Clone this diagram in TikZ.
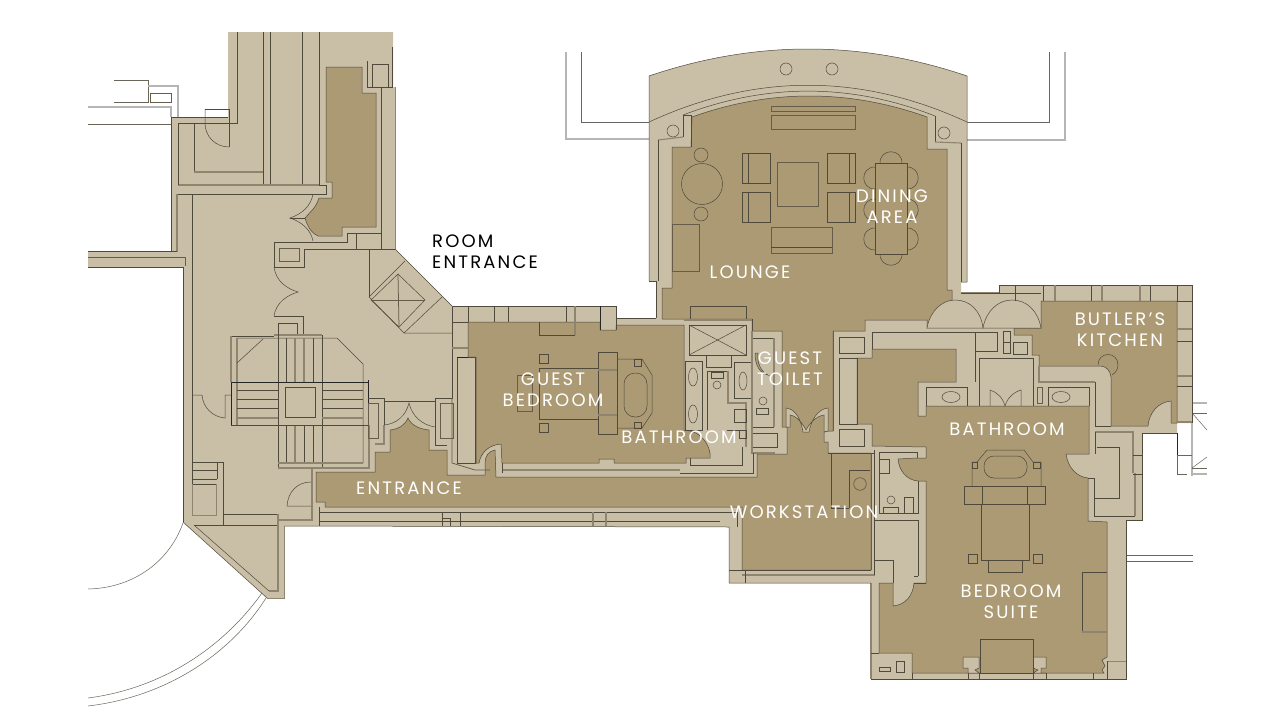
\documentclass[tikz,border=0pt]{standalone}
\usepackage{fontspec}
\newfontfamily\labfont[LetterSpace=12]{Poppins}
\definecolor{wallc}{HTML}{C9BEA6}
\definecolor{roomc}{HTML}{AB9A73}
\definecolor{linec}{HTML}{4F4A3C}
\definecolor{shadc}{HTML}{8E8470}
\definecolor{shadk}{HTML}{655C49}
\definecolor{outc}{HTML}{B5B5B5}
\tikzset{
 ln/.style={draw=linec,line width=.5pt},
 sh/.style={draw=shadc,line width=1.1pt},
 shk/.style={draw=shadk,line width=.75pt},
 bk/.style={draw=black!85,line width=.8pt},
 wht/.style={draw=linec!85,line width=.5pt},
 gy/.style={draw=outc,line width=1.1pt},
 gk/.style={draw=black!60,line width=.6pt},
 room/.style={fill=roomc,draw=linec,line width=.5pt,line join=miter},
 wall/.style={fill=wallc,draw=linec,line width=.5pt},
 lab/.style={text=white,font=\labfont\fontsize{18}{21}\selectfont,align=center,inner sep=0pt},
 labk/.style={text=black,font=\labfont\fontsize{18}{21}\selectfont,align=left,inner sep=0pt,anchor=west}
}
\begin{document}
\begin{tikzpicture}[x=1pt,y=-1pt]
\useasboundingbox (0,0) rectangle (1280,720);
\fill[white] (0,0) rectangle (1280,720);
% outside lines, white area
\draw[wht] (114,80)--(148,80)--(148,102)--(114,102);
\draw[gy] (148,86)--(178,86)--(178,117);
\draw[shk] (150,93) rectangle (171,102);
\draw[gy] (88,107)--(171,107)--(171,117);
\draw[wht] (88,124)--(171,124);
\draw[gy] (566,52)--(566,139)--(649,139);
\draw[gk] (581,52)--(581,122)--(649,122);
\draw[gy] (1065,52)--(1065,140)--(967,140);
\draw[gk] (1049,52)--(1049,122)--(967,122);
\draw[gk] (1126,555)--(1193,555);
\draw[gk] (1126,561)--(1193,561);
\draw[gy] (1192,403)--(1207,403);
\draw[wht] (1192,413)--(1207,413);
\draw[wht] (1192,413)--(1207,430);
\draw[bk] (1177,433)--(1177,455);
\draw[wht] (1177,455)--(1177,474)--(1187,474);
\draw[gy] (1192,423)--(1192,476);
\draw[wht] (1177,455)--(1192,455);
\draw[gy] (1192,474)--(1207,474);
\draw[wht] (1192,468)--(1207,457);
\draw[wht] (1192,468)--(1207,468);
\draw[wht] (183,523) .. controls (170,560) and (135,588) .. (88,589);
\draw[wht] (262,593) .. controls (225,645) and (165,688) .. (88,698);
\draw[wht] (266,598) .. controls (230,655) and (165,697) .. (88,706);
% main wall mass
\fill[wallc] (228,32)--(393,32)--(393,87)--(395,87)--(395,249)--(453,307)--(616,306)--(616,318)--(656,318)--(656,281)--(649,281)--(649,76)
 .. controls (755,40) and (861,40) .. (967,76)--(967,282)--(961,282)--(961,293)--(999,293)--(999,285)--(1192,285)--(1192,423)--(1177,423)--(1177,433)--(1142,433)--(1142,520)--(1126,520)--(1126,679)--(871,679)--(871,583)--(729,583)--(729,527)--(284,526)--(284,598)--(267,598)--(183,522)--(183,267)--(88,267)--(88,251)--(171,251)--(171,117)--(228,117)--cycle;
% outline edges
\draw[ln] (649,281)--(649,76) .. controls (755,40) and (861,40) .. (967,76)--(967,282)--(961,282);
\draw[ln] (656,318)--(656,281)--(649,281);
\draw[sh,line width=.7pt] (395,87)--(395,249);
\draw[ln] (395,249)--(453,307);
\draw[ln] (453,306)--(616,306)--(616,318)--(656,318);
\draw[ln] (999,293)--(999,285)--(1192,285)--(1192,423);
\draw[ln] (1177,433)--(1142,433)--(1142,520)--(1126,520)--(1126,679)--(871,679);
\draw[sh] (871,679)--(871,583);
\draw[ln] (871,583)--(729,583)--(729,527)--(284,526);
\draw[sh,line width=.7pt] (284,526)--(284,598)--(267,598);
\draw[ln] (267,598)--(183,522);
\draw[ln] (183,522)--(183,267)--(88,267);
\draw[ln] (88,251)--(171,251)--(171,117)--(228,117);
\draw[sh] (961,293)--(999,293);
% Upper-left dark room
\path[room] (326,67)--(362,67)--(362,93)--(376,93)--(376,227)--(342,227)--(342,236)--(318,236)
 .. controls (310,232) and (307,225) .. (305,218) .. controls (310,212) and (316,208) .. (319,198)--(332,198)--(332,182)--(326,182)--cycle;
% Lounge + corridor + workstation
\path[room] (692,117) .. controls (770,89) and (849,89) .. (927,117)--(927,149)--(947,149)--(947,290)--(952,290)--(952,300)--(927,328)--(927,320)--(865,320)--(865,331)--(833,331)--(833,431)--(828,431)--(824,432)--(824,442)--(828,442)--(828,453)--(871,453)--(871,570)--(742,570)--(742,507)--(325,507)--(325,502)--(316,502)--(316,472)--(375,472)--(375,452)--(390,452)--(390,430)
 .. controls (399,429) and (405,425) .. (408,418) .. controls (411,425) and (419,429) .. (429,430)--(429,450)--(447,450)--(447,475)--(485,475)--(485,463) .. controls (485,456) and (489,451) .. (495,450)--(496,477)--(757,477)--(757,454)--(787,454)--(787,427)--(782,427)--(782,331)--(752,331)--(752,319)--(662,319)--(662,288)--(672,288)--(672,147)--(691,147)--cycle;
% Guest bedroom
\path[room] (468,322)--(600,322)--(600,330)--(616,330)--(616,325)--(684,325)--(684,430)--(690,431) .. controls (700,433) and (708,442) .. (710,453)--(710,458)--(686,458)--(686,463)--(614,463)--(614,459)--(599,459)--(599,463)--(502,463)--(501,444) .. controls (489,445) and (481,452) .. (479,463)--(476,463)--(476,357)--(468,357)--cycle;
% Butler's kitchen
\path[room] (1041,301)--(1177,301)--(1177,423)--(1171,423)--(1171,401) .. controls (1158,402) and (1149,413) .. (1148,426)--(1111,426)--(1111,377) .. controls (1110,370) and (1106,366) .. (1100,366)--(1039,366)--(1039,355)--(1032,355)--(1032,335)--(1014,335)--(1014,328)--(1041,328)--cycle;
\draw[ln] (1098,365) .. controls (1098,351) and (1118,351) .. (1118,365) .. controls (1118,370) and (1115,373) .. (1112,375);
% Bedroom + bathroom + walk-in
\path[room] (926,406)--(1089,406)--(1089,454)--(1066,454) .. controls (1068,468) and (1077,477) .. (1088,478)--(1088,521)--(1107,522)--(1107,657)--(1102,660)--(1105,666)--(1102,670)--(1104,673)--(912,673)--(912,653)--(879,653)--(879,583)--(893,583)--(893,606) .. controls (905,605) and (913,596) .. (914,583)--(926,583)--(926,481)--(918,481) .. controls (906,480) and (899,470) .. (898,459)--(917,458)--(926,458)--(926,447)--(872,446)--(872,424)--(857,424)--(857,358)--(872,358)--(872,349)--(956,349)--(956,382)--(918,382)--(918,416)--(926,416)--cycle;
% domes
\path[wall] (927,328) .. controls (930,311) and (942,300) .. (955,300) .. controls (970,300) and (981,311) .. (983,328)--cycle;
\path[wall] (983,328) .. controls (986,311) and (998,300) .. (1012,300) .. controls (1027,300) and (1038,311) .. (1041,328)--cycle;
% top-left wing lines
\draw[ln] (237,32)--(237,123)--(228,123);
\draw[ln] (263,32)--(263,185);
\draw[ln] (270,32)--(270,185);
\draw[ln] (302,32)--(302,185);
\draw[ln] (319,32)--(319,185);
\draw[sh] (178,185)--(319,185);
\draw[ln] (178,123)--(178,185);
\draw[ln] (178,123)--(228,123);
\draw[ln] (194,123)--(194,172);
\draw[sh] (194,172)--(263,172);
\draw[ln] (205,109)--(229,109)--(229,147);
\draw[ln] (205,109)--(205,123) .. controls (205,137) and (216,147) .. (229,147);
\draw[ln] (319,185)--(326,185)--(326,194)--(177,194);
\draw[sh] (177,194)--(177,252);
\draw[ln] (392,47)--(392,87)--(367,87)--(367,61);
\draw[ln] (372,87)--(372,64)--(388,64)--(388,87);
\draw[ln] (381,87)--(381,249);
% double door upper
\draw[ln] (313,194) .. controls (311,206) and (302,214) .. (290,218) .. controls (302,222) and (311,230) .. (313,241);
\draw[ln] (290,218)--(305,218);
% wall pieces
\draw[ln] (274,242)--(347,242)--(347,233)--(381,233);
\draw[ln] (356,233)--(356,249);
\draw[ln] (304,249)--(395,249);
\draw[ln] (304,249)--(304,267)--(274,267)--(274,242);
\draw[shk] (279,248) rectangle (299,261);
\draw[ln] (274,267) .. controls (276,282) and (288,289) .. (298,292) .. controls (288,295) and (276,302) .. (274,316);
\draw[ln] (274,316)--(303,316)--(303,335);
\draw[ln] (278,335)--(278,323)--(297,323)--(297,335);
% left strip
\draw[ln] (192,194)--(192,395);
\draw[ln] (192,395)--(202,395) .. controls (203,408) and (213,417) .. (225,418)--(225,395)--(231,395);
\draw[ln] (192,395)--(192,515);
\draw[shk] (88,257)--(185,257)--(185,266);
\draw[ln] (88,251)--(177,251);
% diamond
\draw[ln] (369,249)--(369,297);
\draw[ln] (369,297)--(404,333)--(453,333);
\draw[ln] (369,297)--(405,261);
\draw[ln] (404,333)--(442,297);
\draw[ln] (398,274)--(425,300)--(399,327)--(371,300)--cycle;
\draw[shk] (398,274)--(399,327);
\draw[shk] (371,300)--(425,300);
% central stair
\draw[ln] (231,336)--(274,336);
\draw[sh] (231,336)--(231,382);
\draw[sh] (274,335)--(322,335);
\draw[ln] (237,338)--(337,338)--(363,364)--(363,463);
\draw[sh] (237,338)--(237,425);
\draw[ln] (237,363)--(263,339);
\draw[ln] (278,323)--(278,468);
\draw[ln] (322,335)--(322,468);
\draw[ln] (286,338)--(286,382);\draw[sh] (295,338)--(295,382);\draw[sh] (304,338)--(304,382);\draw[ln] (313,338)--(313,382);
\draw[ln] (286,425)--(286,463);\draw[sh] (295,425)--(295,463);\draw[ln] (304,425)--(304,463);\draw[ln] (313,425)--(313,463);
\draw[sh] (278,463)--(363,463);
\draw[sh] (278,468)--(369,468)--(369,425);
\draw[bk] (231,382)--(368,382);
\draw[ln] (231,425)--(368,425);
\draw[bk] (231,382)--(231,425);
\draw[bk] (368,380)--(368,425);
\foreach \yy in {390,399,408}{
 \draw[ln] (237,\yy)--(278,\yy);\draw[ln] (322,\yy)--(363,\yy);}
\draw[sh] (237,418)--(278,418);\draw[sh] (322,418)--(363,418);
\draw[ln] (285,387) rectangle (315,417);
% side of stair and door to entrance
\draw[ln] (368,398)--(384,398)--(384,425);
\draw[sh] (384,425)--(384,444)--(375,444);
\draw[shk] (368,403) rectangle (378,438);
\draw[ln] (384,401)--(435,401);
\draw[ln] (384,425) .. controls (396,424) and (406,416) .. (409,403) .. controls (412,416) and (422,425) .. (435,427);
\draw[ln] (435,398)--(452,398)--(452,307);
\draw[ln] (435,398)--(435,445)--(447,445);
\draw[shk] (440,403) rectangle (453,438);
\draw[ln] (468,307)--(468,322);
\draw[ln] (452,322)--(468,322);
\draw[sh] (452,348)--(468,348);
\draw[ln] (457,463)--(457,357)--(475,357)--(475,463)--cycle;
\draw[bk] (457,357)--(468,357);
\draw[shk] (452,398)--(452,463)--(475,470)--(490,470);
% lower left room
\draw[sh] (312,468)--(312,520)--(278,520);
\draw[ln] (278,514)--(223,514);
\draw[ln] (278,514)--(278,520);
\draw[ln] (223,462)--(223,525);
\draw[ln] (192,462)--(223,462);
\draw[ln] (192,470)--(217,470);\draw[ln] (192,479)--(217,479);\draw[ln] (217,462)--(217,479);
\draw[ln] (192,484)--(216,484);
\draw[sh,line width=.8pt] (216,484)--(216,515)--(192,515)--(192,484);
\draw[ln] (194,525)--(278,525);
\draw[sh] (278,514)--(278,591)--(269,591);
\draw[ln] (194,525)--(269,591);
\draw[ln] (311,482) .. controls (297,482) and (288,492) .. (287,506)--(311,506);
% corridor bottom strip
\draw[ln] (319,507)--(319,526);
\draw[ln] (319,512)--(737,512)--(737,527);
\draw[ln] (319,521)--(720,521);
\draw[ln] (442,512)--(442,526);\draw[ln] (460,512)--(460,526);
\draw[ln] (442,518)--(450,518)--(450,526);
\draw[sh] (593,512)--(593,526);\draw[sh] (606,512)--(606,526);
\draw[ln] (729,570)--(871,570);
\draw[sh] (742,575)--(875,575);
\draw[ln] (729,570)--(745,570)--(745,583);
% guest bedroom top strip
\draw[ln] (468,306)--(468,322);\draw[ln] (494,306)--(494,322);\draw[ln] (508,306)--(508,322);
\draw[ln] (566,306)--(566,322);\draw[sh] (575,306)--(575,322);
\draw[bk] (600,306)--(600,330);\draw[ln] (616,306)--(616,330);
% guest bedroom furniture
\draw[ln] (539,322)--(539,335)--(575,335);\draw[sh] (575,335)--(575,322);
\draw[ln] (539,368) rectangle (598,419);
\draw[ln] (539,354) rectangle (548,363);
\draw[ln] (539,423) rectangle (548,432);
\draw[shk] (517,375) rectangle (532,411);
\draw[ln] (598,352) rectangle (617,434);
\draw[sh] (598,370)--(617,370);\draw[sh] (598,415)--(617,415);
\draw[ln] (617,359)--(642,359)--(652,375)--(652,413)--(642,428)--(617,428);
\draw[ln] (634,359) rectangle (641,366);
\draw[ln] (634,422) rectangle (641,428);
\draw[ln,rounded corners=11pt] (624,373) rectangle (647,417);
% bathroom block
\draw[ln] (689,325) rectangle (746,355);
\draw[ln] (689,325)--(746,355);\draw[ln] (746,325)--(689,355);
\draw[sh] (684,320)--(752,320);
\draw[ln] (752,319)--(752,331);
\draw[ln] (706,355)--(706,367)--(731,367)--(731,355);
\draw[ln] (685,361) rectangle (702,430);
\draw[ln] (693,377) ellipse (4.5 and 9);
\draw[ln] (693,414) ellipse (4.5 and 9);
\draw[ln] (707,430)--(707,371);
\draw[ln] (707,371)--(728,371);
\draw[sh] (728,371)--(728,403)--(746,403)--(746,447);
\draw[ln] (711,372) rectangle (723,378);
\draw[ln] (717,385) circle (4);
\draw[ln] (734,409) rectangle (746,422);
\draw[ln] (739,430) rectangle (746,438);
\draw[ln] (727,430) -- (739,430);
\draw[ln] (690,458)--(690,465)--(742,465)--(742,447);
\draw[ln] (734,362) rectangle (752,398);
\draw[ln] (743,381) ellipse (4 and 9);
\draw[ln] (752,338)--(774,338);
\draw[sh] (774,338)--(774,427);
\draw[ln] (774,427)--(752,427);
\draw[ln] (752,398)--(752,427);
\draw[ln] (763,401) circle (4);
\draw[ln] (756,408) rectangle (768,414);
\draw[ln] (752,433) rectangle (777,447);
\draw[sh] (752,331)--(752,453)--(775,453);
\draw[ln] (680,473)--(753,473)--(753,453);
\draw[sh] (502,470)--(680,470);
\draw[ln] (502,463)--(502,473);
% toilet door
\path[fill=roomc,draw=linec,line width=.5pt] (755,353)--(758,353) .. controls (757,362) and (760,371) .. (768,375) .. controls (760,373) and (755,366) .. (755,353);
% M door
\path[wall] (786,408) .. controls (796,409) and (801,420) .. (803,432)--(809,432) .. controls (811,420) and (818,409) .. (828,408)--(828,431)--(824,432)--(824,415) .. controls (816,416) and (809,424) .. (806,430) .. controls (803,424) and (797,416) .. (790,415)--(790,427)--(787,427)--(786,427)--cycle;
% right wall by workstation
\draw[ln] (839,337) rectangle (864,353);
\draw[ln] (839,358) rectangle (857,424);
\draw[ln] (839,429) rectangle (864,446);
\draw[shk] (833,331)--(833,431);
\draw[ln] (828,453)--(874,453);
% workstation
\draw[ln] (831,453)--(831,508);
\draw[ln] (849,508)--(849,470)--(870,470);
\draw[ln] (860,484) circle (6.3);
\draw[ln] (849,508)--(831,508);
\draw[shk] (871,453)--(871,570);
% WC and closet
\draw[ln] (874,450)--(874,575);
\draw[ln] (879,452)--(879,513)--(918,513)--(918,481);
\draw[ln] (879,452)--(917,452)--(917,458);
\draw[ln] (879,459) rectangle (889,473);
\draw[ln] (891,500) circle (4);
\draw[ln] (883,513)--(883,507)--(898,507)--(898,513);
\draw[ln] (904,513)--(904,497)--(913,497)--(913,513);
\draw[ln] (874,520)--(918,520)--(918,576);
\draw[ln] (875,560)--(893,560)--(893,583);
\draw[ln] (926,583)--(914,583);
\draw[ln] (914,576)--(918,576);
\draw[ln] (871,653) -- (879,653);
\draw[ln] (879,667) rectangle (890,671);
\draw[ln] (896,661) rectangle (904,672);
\draw[ln] (912,673)--(912,679);
% bedroom bottom strip and pilasters
\draw[ln] (968,673)--(968,679);\draw[ln] (979,673)--(979,679);\draw[ln] (1033,673)--(1033,679);\draw[ln] (1046,673)--(1046,679);\draw[ln] (1093,673)--(1093,679);
\path[wall] (968,673)--(968,668)--(963,668)--(963,657)--(979,657)--(979,668)--(975,670)--(979,673)--cycle;
\path[wall] (1046,673)--(1041,673)--(1041,668)--(1046,668)--(1046,657)--(1033,657)--(1033,668)--(1038,670)--(1033,673)--cycle;
\draw[ln,fill=roomc] (980,639) rectangle (1033,673);
\draw[sh,line width=.7pt] (1107,661)--(1126,661);
\draw[ln] (1107,661)--(1107,679);
\draw[ln] (1082,572)--(1107,572);\draw[ln] (1082,572)--(1082,632);\draw[sh] (1082,632)--(1107,632);
% bed in suite
\draw[ln] (972,486)--(972,462)--(977,462)--(987,450)--(1024,450)--(1033,462)--(1041,462)--(1041,486);
\draw[ln] (972,462) rectangle (977,468);
\draw[ln] (1033,462) rectangle (1040,468);
\draw[ln,rounded corners=10pt] (984,456) rectangle (1027,478);
\draw[ln] (964,486) rectangle (1045,504);
\draw[ln] (982,486)--(982,504);\draw[ln] (1027,486)--(1027,504);
\draw[ln] (981,504) rectangle (1029,560);
\draw[ln] (988,560)--(988,572)--(1022,572)--(1022,560);
\draw[ln] (968,554) rectangle (977,563);
\draw[ln] (1033,554) rectangle (1042,563);
% bath fixtures
\draw[ln] (872,332)--(975,332)--(975,382);
\draw[ln] (872,332)--(872,349);
\draw[ln] (975,332) rectangle (997,351);
\draw[ln] (1003,331) rectangle (1010,353);
\draw[ln] (1003,342)--(1010,342);
\draw[ln] (1013,342) rectangle (1027,354);
\draw[ln] (926,406)--(926,387)--(967,387)--(967,406);
\draw[ln] (951,397) ellipse (9 and 5.5);
\draw[ln] (979,406)--(979,358)--(1033,358)--(1033,406);
\draw[ln] (990,406)--(990,390) .. controls (997,392) and (1003,398) .. (1005,406) .. controls (1007,398) and (1014,392) .. (1021,390)--(1021,406);
\draw[shk] (1037,387) rectangle (1042,403);
\draw[ln] (1048,406)--(1048,387)--(1089,387)--(1089,406);
\draw[ln] (1061,397) ellipse (9 and 5.5);
\draw[sh] (1039,366)--(1039,382)--(1095,382);
\draw[ln] (1095,382)--(1095,426)--(1111,426);
\draw[sh] (1095,432)--(1133,432)--(1133,473);
\draw[ln] (1095,432)--(1095,454);
\draw[ln] (1097,447)--(1119,447)--(1119,498)--(1094,498);
\draw[ln] (1094,478)--(1094,516)--(1135,516);
\draw[sh] (1135,516)--(1135,473);
\draw[ln] (1133,455)--(1142,455);\draw[ln] (1133,474)--(1142,474);
\draw[ln] (1088,478)--(1094,478);
% kitchen strip
\draw[ln] (961,293)--(1041,293);
\draw[ln] (1015,285)--(1015,301);\draw[ln] (1043,285)--(1043,301);\draw[sh] (1055,285)--(1055,301);
\draw[ln] (1091,285)--(1091,301);\draw[sh] (1102,285)--(1102,301);\draw[sh] (1140,285)--(1140,301);\draw[ln] (1150,285)--(1150,301);
\draw[ln] (1177,285)--(1177,301);
\draw[ln] (1177,301)--(1192,301);\draw[sh] (1177,329)--(1192,329);\draw[ln] (1177,341)--(1192,341);\draw[sh] (1177,376)--(1192,376);\draw[ln] (1177,386)--(1192,386);\draw[sh] (1177,422)--(1192,422);
% lounge arcs and corners
\draw[ln] (649,122) .. controls (755,73) and (861,73) .. (967,122);
\draw[ln] (683,115) .. controls (767,83) and (851,83) .. (935,116);
\draw[ln] (683,115)--(691,115)--(691,147);
\draw[ln] (683,115)--(683,137);
\draw[sh] (683,137)--(658,140);
\draw[ln] (658,140)--(658,281);
\draw[ln] (935,116)--(935,142);
\draw[sh] (935,142)--(961,143);
\draw[ln] (961,143)--(961,282);
\draw[ln] (786,69) circle (6);
\draw[ln] (832,69) circle (6);
\draw[ln] (673,131) circle (6);
\draw[ln] (944,133) circle (6);
% lounge furniture
\draw[shk] (771,106) rectangle (855,111);
\draw[shk] (771,115) rectangle (855,129);
\draw[ln] (742,153) rectangle (770,183);\draw[ln] (748,153)--(748,183);
\draw[ln] (742,192) rectangle (770,222);\draw[ln] (748,192)--(748,222);
\draw[ln] (827,153) rectangle (855,183);\draw[ln] (849,153)--(849,183);
\draw[ln] (827,192) rectangle (855,222);\draw[ln] (849,192)--(849,222);
\draw[shk] (777,162) rectangle (818,206);
\draw[shk] (771,227) rectangle (832,253);
\draw[ln] (771,247)--(832,247);
\draw[ln] (702,184) circle (20.5);
\draw[ln] (701,155) circle (7);
\draw[ln] (701,214) circle (7);
\draw[shk] (672,224) rectangle (699,271);
\draw[ln] (880,163) .. controls (880,148) and (902,148) .. (902,163);
\draw[ln] (880,254) .. controls (880,269) and (902,269) .. (902,254);
\foreach \yy in {178,210,239}{
 \draw[ln] (875,\yy-11) .. controls (860,\yy-11) and (860,\yy+11) .. (875,\yy+11);
 \draw[ln] (907,\yy-11) .. controls (922,\yy-11) and (922,\yy+11) .. (907,\yy+11);}
\draw[ln] (875,163) rectangle (907,254);
\draw[ln] (690,319)--(690,306)--(746,306)--(746,319);
% labels
\node[labk] (roomentrance) at (432,252) {ROOM\\ENTRANCE};
\node[lab] (guestbedroom) at (553,390) {GUEST\\BEDROOM};
\node[lab] (bathguest) at (679,437) {BATHROOM};
\node[lab] (entrance) at (409,488) {ENTRANCE};
\node[lab] (guesttoilet) at (790,369) {GUEST\\TOILET};
\node[lab] (lounge) at (750,272) {LOUNGE};
\node[lab] (dining) at (892,207) {DINING\\AREA};
\node[lab] (butler) at (1120,330) {BUTLER’S\\KITCHEN};
\node[lab] (bathmain) at (1007,429) {BATHROOM};
\node[lab] (workstation) at (804,512) {WORKSTATION};
\node[lab] (suite) at (1011,602) {BEDROOM\\SUITE};
\end{tikzpicture}
\end{document}
